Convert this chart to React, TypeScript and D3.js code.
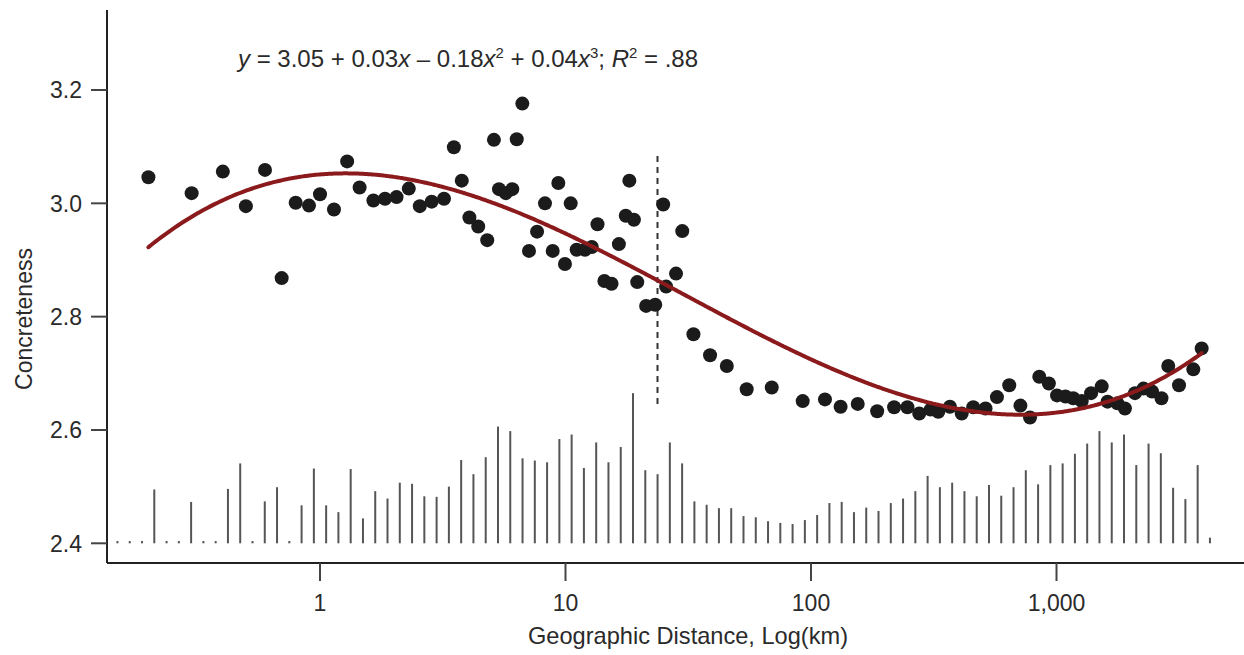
import React from 'react';
import * as d3 from 'd3';

// scatter: mean concreteness per distance
const distanceKm = [
  0.2, 0.3, 0.402, 0.499, 0.597, 0.698, 0.796, 0.902, 1.0, 1.14,
  1.29, 1.45, 1.65, 1.84, 2.05, 2.3, 2.55, 2.85, 3.2, 3.51,
  3.78, 4.06, 4.41, 4.8, 5.11, 5.36, 5.71, 6.07, 6.33, 6.67,
  7.1, 7.66, 8.25, 8.87, 9.35, 9.95, 10.5, 11.1, 12.0, 12.8,
  13.5, 14.4, 15.4, 16.5, 17.6, 18.2, 19.0, 19.6, 21.3, 23.2,
  25.0, 25.7, 28.2, 29.9, 33.2, 38.8, 45.4, 54.7, 69.2, 92.5,
  114, 132, 155, 186, 218, 247, 276, 307, 330, 368,
  411, 458, 514, 572, 642, 713, 780, 851, 931, 1005,
  1088, 1170, 1267, 1383, 1528, 1614, 1772, 1900, 2088, 2261,
  2449, 2677, 2853, 3155, 3608, 3902
];
const concreteness = [
  3.046, 3.018, 3.056, 2.995, 3.059, 2.868, 3.001, 2.996, 3.016, 2.989,
  3.074, 3.028, 3.005, 3.008, 3.011, 3.026, 2.995, 3.003, 3.008, 3.099,
  3.04, 2.975, 2.959, 2.935, 3.112, 3.025, 3.018, 3.025, 3.113, 3.176,
  2.916, 2.95, 3.0, 2.916, 3.036, 2.893, 3.0, 2.918, 2.918, 2.923,
  2.963, 2.863, 2.858, 2.928, 2.978, 3.04, 2.971, 2.861, 2.819, 2.821,
  2.998, 2.853, 2.876, 2.951, 2.769, 2.732, 2.713, 2.672, 2.675, 2.651,
  2.654, 2.641, 2.646, 2.633, 2.64, 2.64, 2.629, 2.636, 2.632, 2.641,
  2.629, 2.64, 2.638, 2.658, 2.679, 2.643, 2.622, 2.694, 2.682, 2.661,
  2.659, 2.656, 2.651, 2.665, 2.677, 2.65, 2.647, 2.638, 2.665, 2.673,
  2.668, 2.656, 2.713, 2.679, 2.707, 2.744
];

// histogram of pairs, bins of 0.05 log10(km), tops drawn in the concreteness frame
const binStartLog = -0.85;
const binWidthLog = 0.05;
const histTops = [
  2.404, 2.404, 2.404, 2.495, 2.404, 2.404, 2.473, 2.404, 2.404, 2.496,
  2.541, 2.404, 2.474, 2.499, 2.404, 2.467, 2.532, 2.467, 2.455, 2.531,
  2.444, 2.492, 2.479, 2.507, 2.505, 2.483, 2.482, 2.5, 2.547, 2.522,
  2.552, 2.606, 2.598, 2.55, 2.546, 2.543, 2.584, 2.592, 2.533, 2.578,
  2.543, 2.57, 2.665, 2.529, 2.522, 2.578, 2.541, 2.474, 2.468, 2.462,
  2.462, 2.448, 2.446, 2.439, 2.436, 2.434, 2.441, 2.45, 2.471, 2.473,
  2.455, 2.463, 2.457, 2.471, 2.479, 2.492, 2.519, 2.499, 2.507, 2.492,
  2.483, 2.503, 2.484, 2.499, 2.529, 2.504, 2.538, 2.541, 2.558, 2.576,
  2.598, 2.578, 2.592, 2.538, 2.576, 2.559, 2.498, 2.478, 2.538, 2.41
];

// cubic fit in log10(km), coefficients as drawn
const fitCoef = [3.051, 0.0366, -0.1819, 0.041];
const fitRangeKm = [0.2, 3902];

const cutoffKm = 23.7;
const cutoffSpan = [2.646, 3.09];

const yTicks = [2.4, 2.6, 2.8, 3.0, 3.2];
const xTicks = [1, 10, 100, 1000];

const font = "'Liberation Sans', Arial, sans-serif";
const ink = '#2a2a2a';

export default function App() {
  const x = d3.scaleLog().domain([1, 1000]).range([320, 1056.5]);
  const y = d3.scaleLinear().domain([2.4, 3.2]).range([543.3, 90]);

  const axisX = 107, axisY = 563;

  const bins = histTops.map((t, i) => ({
    km: Math.pow(10, binStartLog + binWidthLog * (i + 0.5)),
    top: t
  }));

  const lo = Math.log10(fitRangeKm[0]), hi = Math.log10(fitRangeKm[1]);
  const curvePts = d3.range(lo, hi, 0.01).concat([hi]).map(L => [
    Math.pow(10, L),
    fitCoef[0] + fitCoef[1] * L + fitCoef[2] * L * L + fitCoef[3] * L * L * L
  ]);
  const line = d3.line<number[]>()
    .x(d => x(d[0]))
    .y(d => y(d[1]))
    .curve(d3.curveBasis);

  const fmtX = d3.format(',');
  const fmtY = d3.format('.1f');

  return (
    <svg width={1244} height={655} style={{ position: 'absolute', left: 0, top: 0, background: '#fff' }}
      fontFamily={font}>
      {/* histogram */}
      <g stroke="#555" strokeWidth={2}>
        {bins.map((b, i) => (
          <line key={i} x1={x(b.km)} x2={x(b.km)} y1={y(2.4)} y2={y(b.top)} />
        ))}
      </g>

      {/* cutoff */}
      <line x1={x(cutoffKm)} x2={x(cutoffKm)} y1={y(cutoffSpan[0])} y2={y(cutoffSpan[1])}
        stroke="#333" strokeWidth={2} strokeDasharray="6,5" />

      {/* points */}
      <g fill="#1b1b1b">
        {distanceKm.map((d, i) => (
          <circle key={i} cx={x(d)} cy={y(concreteness[i])} r={7} />
        ))}
      </g>

      {/* fit */}
      <path d={line(curvePts) || ''} fill="none" stroke="#8b1a1c" strokeWidth={4} strokeLinecap="round" />

      {/* axes */}
      <line x1={axisX} x2={axisX} y1={10} y2={axisY} stroke="#222" strokeWidth={2} />
      <line x1={axisX} x2={1244} y1={axisY} y2={axisY} stroke="#222" strokeWidth={2} />
      {yTicks.map(t => (
        <g key={t}>
          <line x1={axisX - 16} x2={axisX} y1={y(t)} y2={y(t)} stroke="#444" strokeWidth={2} />
          <text x={82} y={y(t)} dy="0.36em" textAnchor="end" fontSize={23} fill={ink}>{fmtY(t)}</text>
        </g>
      ))}
      {xTicks.map(t => (
        <g key={t}>
          <line x1={x(t)} x2={x(t)} y1={axisY} y2={axisY + 18} stroke="#444" strokeWidth={2} />
          <text x={x(t)} y={611} textAnchor="middle" fontSize={23} fill={ink}>{fmtX(t)}</text>
        </g>
      ))}

      <text x={688} y={644} textAnchor="middle" fontSize={23.6} fill={ink}>Geographic Distance, Log(km)</text>
      <text transform="translate(32,319) rotate(-90)" textAnchor="middle" fontSize={23} fill={ink}>Concreteness</text>

      <text x={238} y={67} fontSize={24} fill={ink}>
        <tspan fontStyle="italic">y</tspan>
        <tspan> = 3.05 + 0.03</tspan>
        <tspan fontStyle="italic">x</tspan>
        <tspan> – 0.18</tspan>
        <tspan fontStyle="italic">x</tspan>
        <tspan dy={-9} fontSize={15}>2</tspan>
        <tspan dy={9}> + 0.04</tspan>
        <tspan fontStyle="italic">x</tspan>
        <tspan dy={-9} fontSize={15}>3</tspan>
        <tspan dy={9}>; </tspan>
        <tspan fontStyle="italic">R</tspan>
        <tspan dy={-9} fontSize={15}>2</tspan>
        <tspan dy={9}> = .88</tspan>
      </text>
    </svg>
  );
}
